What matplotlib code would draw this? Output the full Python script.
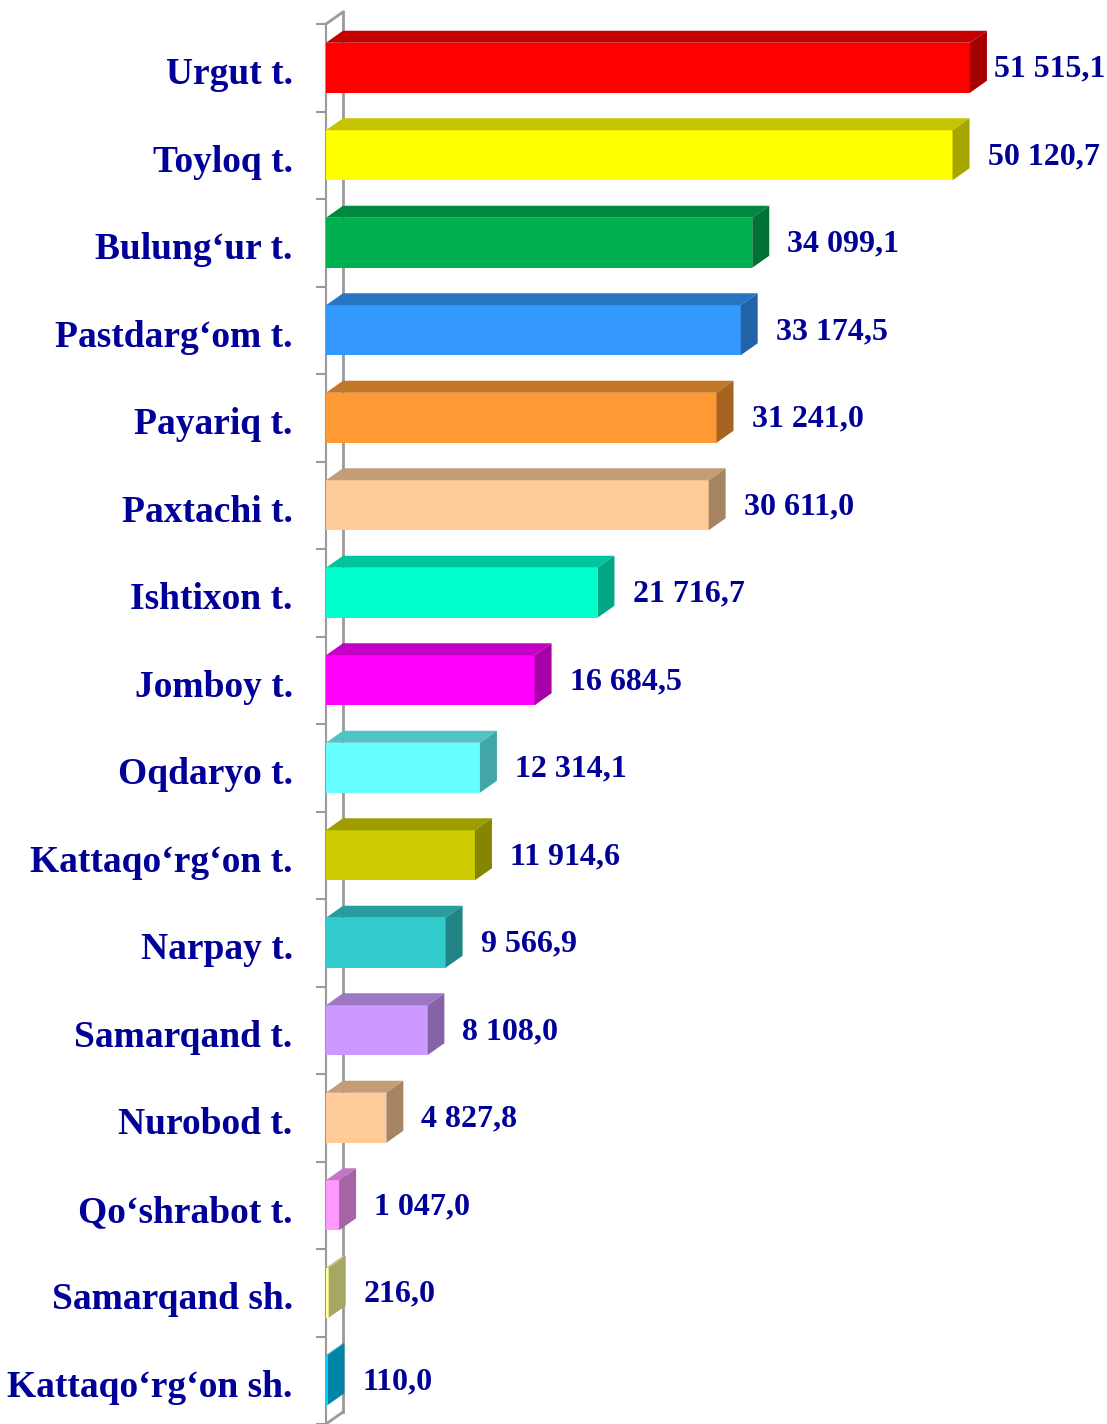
import numpy as np
import matplotlib
matplotlib.use("Agg")
import matplotlib.pyplot as plt
from matplotlib.patches import Polygon
from matplotlib.colors import to_rgb

# data
districts = ["Urgut t.", "Toyloq t.", "Bulung\u2018ur t.", "Pastdarg\u2018om t.", "Payariq t.",
             "Paxtachi t.", "Ishtixon t.", "Jomboy t.", "Oqdaryo t.", "Kattaqo\u2018rg\u2018on t.",
             "Narpay t.", "Samarqand t.", "Nurobod t.", "Qo\u2018shrabot t.", "Samarqand sh.",
             "Kattaqo\u2018rg\u2018on sh."]
values = [51515.1, 50120.7, 34099.1, 33174.5, 31241.0, 30611.0, 21716.7, 16684.5,
          12314.1, 11914.6, 9566.9, 8108.0, 4827.8, 1047.0, 216.0, 110.0]
bar_colors = ["#FF0000", "#FFFF00", "#00B050", "#3399FF", "#FF9933", "#FFCC99", "#00FFCC",
              "#FF00FF", "#66FFFF", "#CCCC00", "#33CCCC", "#CC99FF", "#FFCC99", "#FF99FF",
              "#FFFF9C", "#00CCFF"]

text_color = "#000099"
font = "Liberation Serif"


def fmt(v):
    s = f"{v:,.1f}"
    return s.replace(",", " ").replace(".", ",")


def shade(c, k):
    r, g, b = to_rgb(c)
    return (r * k, g * k, b * k)


W, H = 1107, 1424
fig = plt.figure(figsize=(W / 100, H / 100), dpi=100)
xmax = 55000
left_px, top_px = 326, 24
ax_w = 687.5
ax = fig.add_axes([left_px / W, 0, ax_w / W, (H - top_px) / H])
ax.set_xlim(0, xmax)
n = len(values)
ax.set_ylim(n - 0.5, -0.5)

# depth of the 3D effect in pixels, converted to data units
depth_px_x, depth_px_y = 17, 12
dx = depth_px_x * xmax / ax_w
dy = depth_px_y * n / (H - top_px)
h = 50 / ((H - top_px) / n)

# back wall
wall = "#9A9A9A"
ax.plot([dx, dx], [-0.5 - dy, n - 0.5 - dy], color=wall, lw=2, clip_on=False, zorder=1)
ax.plot([0, dx], [-0.5, -0.5 - dy], color=wall, lw=2, clip_on=False, zorder=1)
ax.plot([0, dx], [n - 0.5, n - 0.5 - dy], color=wall, lw=2, clip_on=False, zorder=1)

ax.barh(range(n), values, height=h, color=bar_colors, zorder=3)
labels = []
for i, (v, c) in enumerate(zip(values, bar_colors)):
    top = i - h / 2
    bot = i + h / 2
    ax.add_patch(Polygon([(0, top), (v, top), (v + dx, top - dy), (dx, top - dy)],
                         closed=True, facecolor=shade(c, 0.77), edgecolor="none", zorder=3))
    ax.add_patch(Polygon([(v, top), (v + dx, top - dy), (v + dx, bot - dy), (v, bot)],
                         closed=True, facecolor=shade(c, 0.65), edgecolor="none", zorder=3))
    t = ax.annotate(fmt(v), xy=(v + dx, i), xytext=(13, -1), textcoords="offset points",
                    ha="left", va="center", fontsize=23, fontweight="bold", family=font,
                    color=text_color, annotation_clip=False)
    labels.append(t)

# category labels left of the axis
for i, name in enumerate(districts):
    ax.annotate(name, xy=(0, i), xycoords=("axes fraction", "data"), xytext=(-24, -5),
                textcoords="offset points", ha="right", va="center", fontsize=27,
                fontweight="bold", family=font, color=text_color, annotation_clip=False)

for s in ["top", "right", "bottom"]:
    ax.spines[s].set_visible(False)
ax.spines["left"].set_color(wall)
ax.spines["left"].set_linewidth(1.5)
ax.set_xticks([])
ax.set_yticks([])
ax.set_yticks(np.arange(-0.5, n, 1), minor=True)
ax.tick_params(axis="y", which="minor", length=7.5, width=1.5, color=wall)

# keep value labels inside the picture
fig.canvas.draw()
r = fig.canvas.get_renderer()
for t in labels:
    ext = t.get_window_extent(r)
    if ext.x1 > W - 2:
        ox, oy = t.xyann
        t.xyann = (ox - (ext.x1 - (W - 2)) * 72 / 100, oy)

fig.savefig("out.png", dpi=100)
